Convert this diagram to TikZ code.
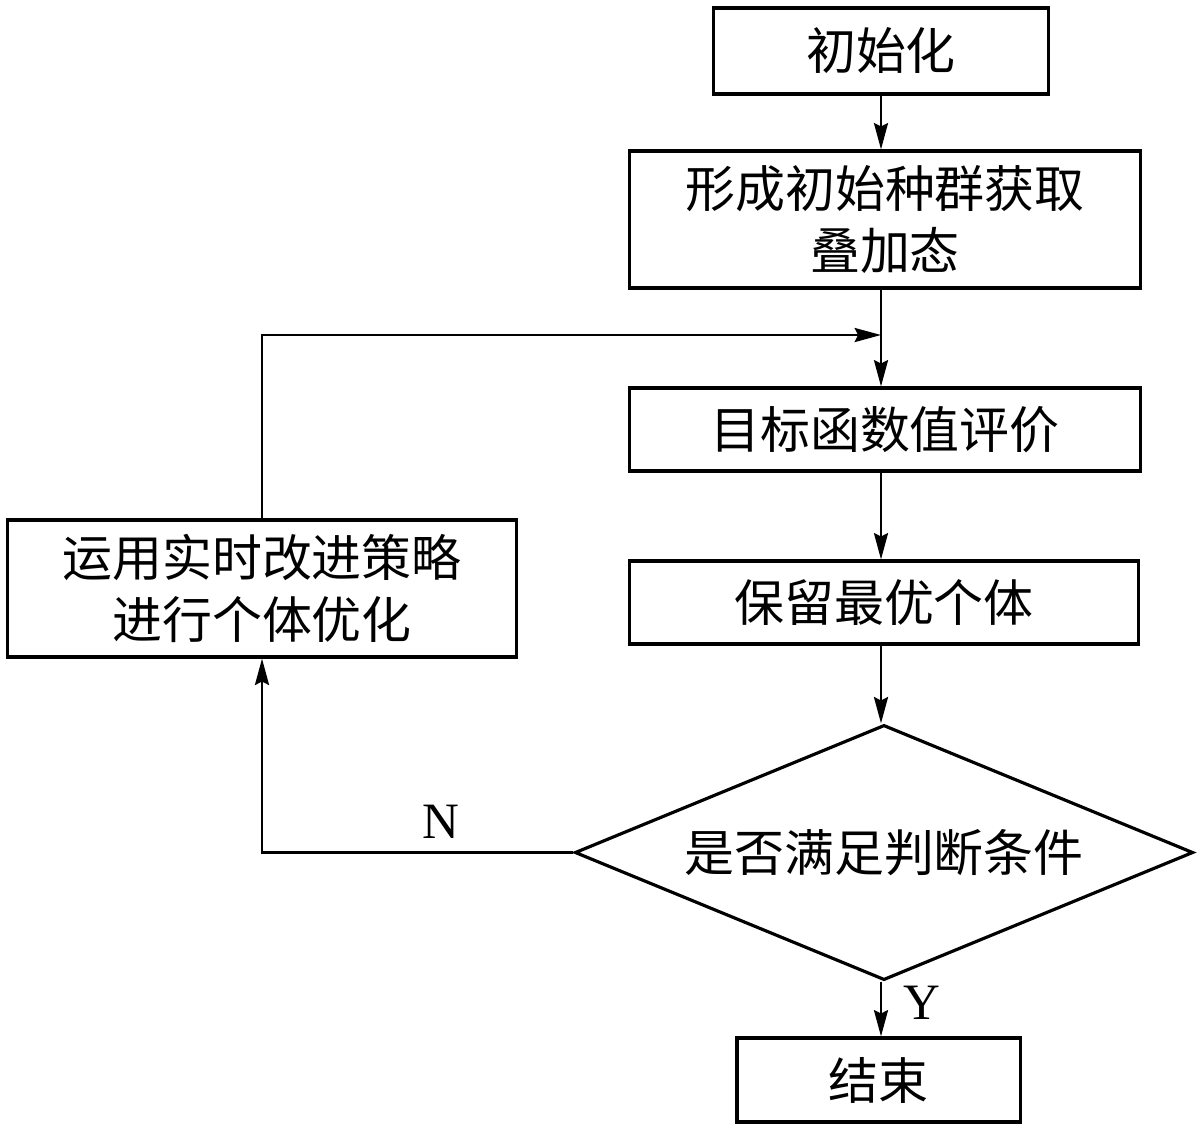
\documentclass[tikz,border=0pt]{standalone}
\usepackage{fontspec}
\setmainfont{Liberation Serif}
\newfontfamily\cjk{Noto Sans CJK SC}
\usetikzlibrary{arrows.meta}
\usetikzlibrary{shapes.geometric}
\tikzset{
  stepbox/.style={draw,line width=0.9pt,inner sep=0pt,align=center,
    font=\cjk\fontsize{14.2}{17.6}\selectfont},
  flow/.style={line width=0.7pt,arrows={-{Stealth[length=7.5pt,width=4pt,inset=1pt]}}},
  yesno/.style={font=\fontsize{14.5}{16}\selectfont},
}

\begin{document}
\begin{tikzpicture}[x=0.01cm,y=-0.01cm]
        \useasboundingbox (0,0) rectangle (1200,1138);
        % Main column of steps
        \node[stepbox,minimum width=3.34cm,minimum height=0.86cm] (init) at (881,51) {初始化};
        \node[stepbox,minimum width=5.10cm,minimum height=1.37cm] (form) at (885,219.5) {形成初始种群获取\\叠加态};
        \node[stepbox,minimum width=5.10cm,minimum height=0.83cm] (eval) at (885,429.5) {目标函数值评价};
        \node[stepbox,minimum width=5.08cm,minimum height=0.83cm] (keep) at (884,602.5) {保留最优个体};
        \node[stepbox,shape=diamond,aspect=2.43,minimum width=6.18cm,minimum height=2.55cm] (check) at (884,852.5) {是否满足判断条件};
        \node[stepbox,minimum width=2.83cm,minimum height=0.84cm] (stop) at (878.5,1080) {结束};
        % Feedback branch
        \node[stepbox,minimum width=5.08cm,minimum height=1.37cm] (improve) at (262,588.5) {运用实时改进策略\\进行个体优化};
        \coordinate (join) at (881,335);
        % Connectors
        \draw[flow] (init.south -| join) -- (form.north -| join);
        \draw[flow] (form.south -| join) -- (eval.north -| join);
        \draw[flow] (eval.south -| join) -- (keep.north -| join);
        \draw[flow] (keep.south -| join) -- (check.north -| join);
        \draw[flow] (check.south -| join) -- (stop.north -| join);
        \draw[flow] (check.west) -| (improve.south);
        \draw[flow] (improve.north) |- (join);
        % Branch labels
        \node[yesno] (no) at (441,822) {N};
        \node[yesno] (yes) at (922,1003) {Y};
      \end{tikzpicture}
\end{document}
